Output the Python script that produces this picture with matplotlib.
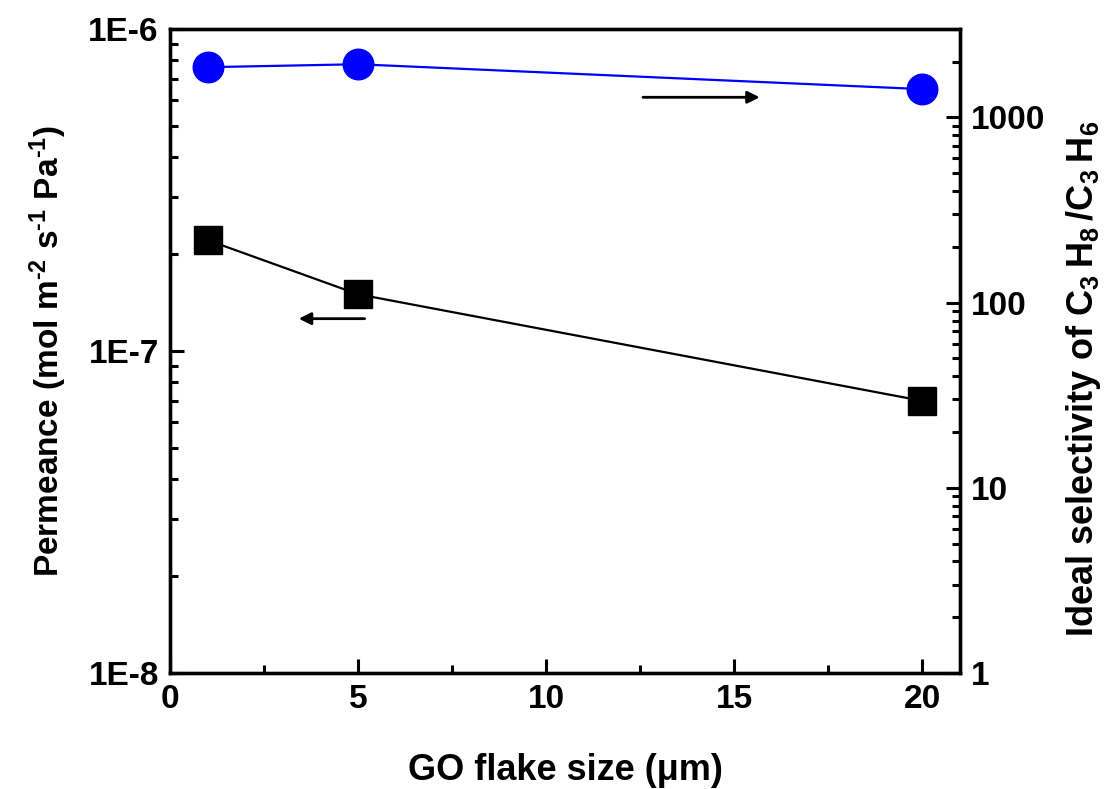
import numpy as np
import matplotlib.pyplot as plt
from matplotlib.ticker import FixedLocator, LogLocator, NullFormatter, MultipleLocator

plt.rcParams['font.family'] = ['Liberation Sans', 'DejaVu Sans']
plt.rcParams['font.weight'] = 'bold'
plt.rcParams['axes.labelweight'] = 'bold'
plt.rcParams['mathtext.default'] = 'regular'

#-----------------Data--------------------------
flake_size = [1, 5, 20]                      # GO flake size (um)
permeance = [2.21e-7, 1.50e-7, 7.0e-8]       # mol m-2 s-1 Pa-1
selectivity = [1865, 1935, 1420]             # ideal C3H8/C3H6 selectivity

left_ticks = [1e-8, 1e-7, 1e-6]
left_labels = ['1E-8', '1E-7', '1E-6']
right_ticks = [1, 10, 100, 1000]
right_labels = ['1', '10', '100', '1000']

#-----------------Figure--------------------------
fig = plt.figure(figsize=(11.13, 7.89), dpi=100)
ax = fig.add_axes([0.1527, 0.147, 0.7098, 0.8163])
ax2 = ax.twinx()

ax.plot(flake_size, permeance, color='black', lw=1.6, marker='s',
        ms=20, mfc='black', mec='black', zorder=3)
ax2.plot(flake_size, selectivity, color='#0000ff', lw=1.6, marker='o',
         ms=22, mfc='#0000ff', mec='#0000ff', zorder=3)

ax.set_xlim(0, 21)
ax.set_yscale('log')
ax.set_ylim(1e-8, 1e-6)
ax2.set_yscale('log')
ax2.set_ylim(1, 3000)

ax.xaxis.set_major_locator(MultipleLocator(5))
ax.xaxis.set_minor_locator(MultipleLocator(2.5))
ax.yaxis.set_major_locator(FixedLocator(left_ticks))
ax.set_yticklabels(left_labels)
ax.yaxis.set_minor_locator(LogLocator(base=10, subs=np.arange(2, 10)))
ax.yaxis.set_minor_formatter(NullFormatter())
ax2.yaxis.set_major_locator(FixedLocator(right_ticks))
ax2.set_yticklabels(right_labels)
ax2.yaxis.set_minor_locator(LogLocator(base=10, subs=np.arange(2, 10)))
ax2.yaxis.set_minor_formatter(NullFormatter())

ax.tick_params(axis='both', which='major', direction='in', length=10, width=2.2,
               labelsize=24, top=False, right=False, pad=8)
ax.tick_params(axis='both', which='minor', direction='in', length=6, width=2.2,
               top=False, right=False)
ax2.tick_params(axis='y', which='major', direction='in', length=10, width=2.2,
                labelsize=24, pad=8)
ax2.tick_params(axis='y', which='minor', direction='in', length=6, width=2.2)

for a in (ax, ax2):
    for s in a.spines.values():
        s.set_linewidth(2.4)

ax.set_xlabel('GO flake size (μm)', fontsize=26, fontweight='bold', labelpad=27)
ax.set_ylabel('Permeance (mol m$^{\u2010 2}$ s$^{\u2010 1}$ Pa$^{\u2010 1}$)', fontsize=24,
              fontweight='bold', labelpad=14)
ax2.set_ylabel('Ideal selectivity of C$_3\\,$H$_8\\,$/C$_3\\,$H$_6$', fontsize=26,
               fontweight='bold')
ax2.yaxis.set_label_coords(1.132, 0.457)

# arrows pointing to each series' axis
ax.annotate('', xy=(3.35, 1.26e-7), xytext=(5.25, 1.26e-7),
            arrowprops=dict(arrowstyle='-|>', color='black', lw=2, mutation_scale=18))
ax2.annotate('', xy=(15.75, 1283), xytext=(12.5, 1283),
             arrowprops=dict(arrowstyle='-|>', color='black', lw=2, mutation_scale=18))

fig.savefig('out.png', dpi=100)
